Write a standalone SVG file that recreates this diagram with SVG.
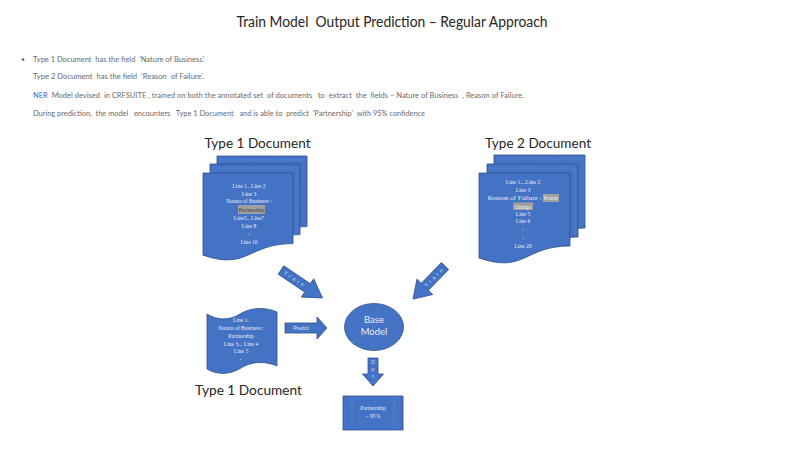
<svg xmlns="http://www.w3.org/2000/svg" width="800" height="450" viewBox="0 0 800 450">
<defs>
<style>
.bg{fill:#ffffff}
.title{font-family:Lato,"Open Sans","Liberation Sans",sans-serif;font-size:14.5px;fill:#262626;white-space:pre}
.bul{font-family:Lato,"Open Sans","Liberation Sans",sans-serif;font-size:6.8px;fill:#6b6b6b;white-space:pre}
.ner{fill:#4a5ca8}
.head{font-family:Lato,"Open Sans","Liberation Sans",sans-serif;font-size:14px;fill:#262626}
.shape{fill:#4472C4;stroke:#2F528F;stroke-width:0.8}
.inner{fill:none;stroke:#c9d4ee;stroke-width:0.5;stroke-dasharray:1 1.5;opacity:0.7}
.st{font-family:"Liberation Serif","DejaVu Serif",serif;font-size:5.6px;fill:#e6ebf6;text-anchor:middle}
.hl{fill:#a0a0a0}
.hlt{font-family:"Liberation Serif","DejaVu Serif",serif;font-size:5.6px;fill:#3a3a3a;text-anchor:middle}
.hlw{font-family:"Liberation Serif","DejaVu Serif",serif;font-size:5.6px;fill:#f2f2f2;text-anchor:middle}
.al{font-family:"Liberation Sans",sans-serif;font-size:5px;fill:#dfe6f5;text-anchor:middle}
.bm{font-family:Lato,"Open Sans","Liberation Sans",sans-serif;font-size:9.5px;fill:#e9eef8;text-anchor:middle}
</style>
</defs>
<rect class="bg" x="0" y="0" width="800" height="450"/>

<g id="title">
<text class="title" x="392" y="27" text-anchor="middle" textLength="311" lengthAdjust="spacingAndGlyphs">Train Model  Output Prediction – Regular Approach</text>
</g>

<g id="bullets">
<text class="bul" x="21" y="61.5">•</text>
<text class="bul" x="33" y="61.5" textLength="172" lengthAdjust="spacingAndGlyphs">Type 1 Document  has the field  ‘Nature of Business’.</text>
<text class="bul" x="33" y="78.5" textLength="171" lengthAdjust="spacingAndGlyphs">Type 2 Document  has the field  ‘Reason  of Failure’.</text>
<text class="bul" x="33" y="97.5" textLength="491" lengthAdjust="spacingAndGlyphs"><tspan class="ner">NER</tspan>  Model devised  in CRFSUITE , trained on both the annotated set  of documents   to  extract  the  fields – Nature of Business  , Reason of Failure.</text>
<text class="bul" x="33" y="115.5" textLength="392" lengthAdjust="spacingAndGlyphs">During prediction,  the model   encounters   Type 1 Document   and is able to  predict  ‘Partnership’  with 95% confidence</text>
</g>

<g id="type1-doc">
<text class="head" x="257.5" y="148" text-anchor="middle" textLength="106" lengthAdjust="spacingAndGlyphs">Type 1 Document</text>
<path class="shape" d="M217,156 H307 V226.6 C262,226.6 262,253.5 217,238.2 Z"/>
<line class="inner" x1="220" y1="160" x2="304" y2="160"/>
<path class="shape" d="M210,164 H300 V234.6 C255,234.6 255,261.5 210,246.2 Z"/>
<line class="inner" x1="213" y1="168" x2="297" y2="168"/>
<line class="inner" x1="297" y1="168" x2="297" y2="232"/>
<path class="shape" d="M203,173 H293 V243.6 C248,243.6 248,270.5 203,255.2 Z"/>
<text class="st" x="249" y="188">Line 1.. Line 2</text>
<text class="st" x="249" y="196">Line 3</text>
<text class="st" x="249" y="203">Nature of Business :</text>
<rect class="hl" x="238" y="205" width="27" height="9"/>
<text class="hlt" x="251.5" y="211.5">Partnership</text>
<text class="st" x="249" y="220">Line5.. Line7</text>
<text class="st" x="249" y="228">Line 8</text>
<text class="st" x="249" y="236">-</text>
<text class="st" x="249" y="244">Line 10</text>
</g>

<g id="type2-doc">
<text class="head" x="538" y="148" text-anchor="middle" textLength="106" lengthAdjust="spacingAndGlyphs">Type 2 Document</text>
<path class="shape" d="M494,155 H585 V228 C539.5,228 539.5,255.8 494,240 Z"/>
<line class="inner" x1="497" y1="159" x2="582" y2="159"/>
<path class="shape" d="M487,164 H578 V237 C532.5,237 532.5,264.8 487,249 Z"/>
<line class="inner" x1="490" y1="168" x2="575" y2="168"/>
<line class="inner" x1="575" y1="168" x2="575" y2="235"/>
<path class="shape" d="M479,173 H570 V246 C524.5,246 524.5,273.8 479,258 Z"/>
<text class="st" x="523" y="184">Line 1....Line 2</text>
<text class="st" x="523" y="192">Line 3</text>
<text class="st" x="514.5" y="200" textLength="54" lengthAdjust="spacingAndGlyphs">Reason of Failure :</text>
<rect class="hl" x="543" y="194" width="16" height="8"/>
<text class="hlw" x="551" y="200">Power</text>
<rect class="hl" x="513" y="202.5" width="20" height="7.5"/>
<text class="hlw" x="523" y="208.5">Outage</text>
<text class="st" x="523" y="215.5">Line 5</text>
<text class="st" x="523" y="223">Line 6</text>
<text class="st" x="523" y="231">-</text>
<text class="st" x="523" y="239.5">-</text>
<text class="st" x="523" y="248">Line 20</text>
</g>

<g id="input-doc">
<path class="shape" d="M207,314 C216,320 229,321 240,314 C251,307 266,307 277,312 V366 C266,361 252,361 241,368 C230,375 217,375 207,369 Z"/>
<text class="st" x="241" y="322">Line  1.</text>
<text class="st" x="241" y="330">Nature of Business :</text>
<text class="st" x="241" y="338">Partnership</text>
<text class="st" x="241" y="345.5">Line 3... Line 4</text>
<text class="st" x="241" y="353">Line 5</text>
<text class="st" x="241" y="361">-</text>
<text class="head" x="248.5" y="395" text-anchor="middle" textLength="107" lengthAdjust="spacingAndGlyphs">Type 1 Document</text>
</g>

<g id="base-model">
<ellipse class="shape" cx="374" cy="327" rx="29.5" ry="23.5"/>
<line x1="352" y1="311" x2="396" y2="343" stroke="#6f8fd0" stroke-width="0.5" stroke-dasharray="1 1.5"/>
<line x1="352" y1="343" x2="396" y2="311" stroke="#6f8fd0" stroke-width="0.5" stroke-dasharray="1 1.5"/>
<text class="bm" x="374" y="323">Base</text>
<text class="bm" x="374" y="335">Model</text>
</g>

<g id="result">
<rect class="shape" x="343" y="396" width="60" height="34"/>
<line class="inner" x1="352" y1="397" x2="352" y2="429"/>
<line class="inner" x1="394" y1="397" x2="394" y2="429"/>
<text class="st" x="373" y="410">Partnership</text>
<text class="st" x="373" y="418">– 95%</text>
</g>

<g id="connectors">
<g transform="translate(281,270) rotate(34)">
<path class="shape" d="M0,-5 H32 V-11 L50,0 L32,11 V5 H0 Z"/>
<text class="al" x="17" y="1.8" letter-spacing="3">Train</text>
</g>
<g transform="translate(445,266) rotate(134)">
<path class="shape" d="M0,-5 H29 V-11 L46,0 L29,11 V5 H0 Z"/>
<text class="al" x="15" y="1.8" letter-spacing="3" transform="rotate(180 15 0)">Train</text>
</g>
<path class="shape" d="M285,323 H317 V317 L327,328 L317,339 V333 H285 Z"/>
<text class="al" x="301" y="329.8">Predict</text>
<path class="shape" d="M368,358 H378 V374 H383.5 L373,386 L362.5,374 H368 Z"/>
<text class="al" x="373" y="364">O</text>
<text class="al" x="373" y="371">u</text>
<text class="al" x="373" y="378">t</text>
</g>
</svg>
